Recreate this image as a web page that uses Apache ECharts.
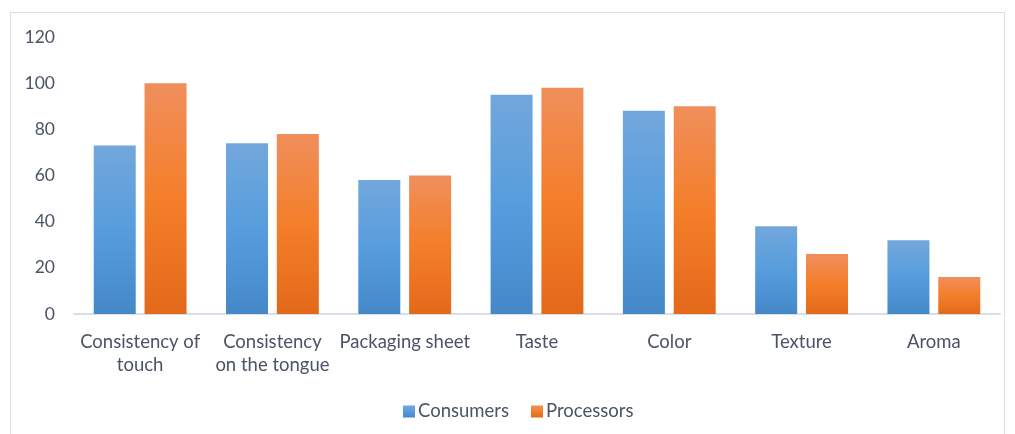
<!DOCTYPE html>
<html>
<head>
<meta charset="utf-8">
<script src="https://cdn.jsdelivr.net/npm/echarts@6/dist/echarts.min.js"></script>
<style>
  html, body { margin: 0; padding: 0; background: #fff; }
  #chart { width: 1015px; height: 434px; }
</style>
</head>
<body>
<div id="chart"></div>
<script>
// Sensory attributes rated by the two groups
const categories = [
  'Consistency of\ntouch',
  'Consistency\non the tongue',
  'Packaging sheet',
  'Taste',
  'Color',
  'Texture',
  'Aroma'
];
const consumers = [73, 74, 58, 95, 88, 38, 32];
const processors = [100, 78, 60, 98, 90, 26, 16];
const yTicks = { min: 0, max: 120, step: 20 };

const textColor = '#4a5466';
const fontFamily = 'Lato, "Open Sans", sans-serif';

function vGrad(top, mid, bottom) {
  return new echarts.graphic.LinearGradient(0, 0, 0, 1, [
    { offset: 0, color: top },
    { offset: 0.5, color: mid },
    { offset: 1, color: bottom }
  ]);
}

const blueFill = vGrad('#72a7dc', '#579ddd', '#4488c8');
const orangeFill = vGrad('#f08f5c', '#f47e2a', '#e3691a');

const chart = echarts.init(document.getElementById('chart'), null, { renderer: 'canvas' });
chart.setOption({
  animation: false,
  backgroundColor: '#ffffff',
  graphic: [{
    type: 'rect',
    shape: { x: 10.5, y: 12.5, width: 994, height: 430 },
    style: { fill: 'none', stroke: '#d9dde6', lineWidth: 1 },
    silent: true,
    z: -1
  }],
  grid: { left: 74, right: 15, top: 37, bottom: 120, containLabel: false },
  legend: {
    bottom: 8,
    left: 398,
    itemWidth: 12,
    itemHeight: 12,
    itemGap: 22,
    icon: 'rect',
    textStyle: { color: textColor, fontSize: 18.5, fontFamily: fontFamily, padding: [0, 0, 0, -2] },
    data: ['Consumers', 'Processors']
  },
  xAxis: {
    type: 'category',
    data: categories,
    axisLine: { lineStyle: { color: '#d9dfe8', width: 2 } },
    axisTick: { show: false },
    axisLabel: {
      color: textColor,
      fontSize: 18.5,
      fontFamily: fontFamily,
      lineHeight: 23,
      margin: 17,
      interval: 0
    }
  },
  yAxis: {
    type: 'value',
    min: yTicks.min,
    max: yTicks.max,
    interval: yTicks.step,
    axisLine: { show: false },
    axisTick: { show: false },
    splitLine: { show: false },
    axisLabel: {
      color: textColor,
      fontSize: 17.5,
      fontFamily: fontFamily,
      margin: 19
    }
  },
  series: [
    {
      name: 'Consumers',
      type: 'bar',
      data: consumers,
      barWidth: 42,
      barGap: '21%',
      itemStyle: { color: blueFill }
    },
    {
      name: 'Processors',
      type: 'bar',
      data: processors,
      barWidth: 42,
      itemStyle: { color: orangeFill }
    }
  ]
});
</script>
</body>
</html>
